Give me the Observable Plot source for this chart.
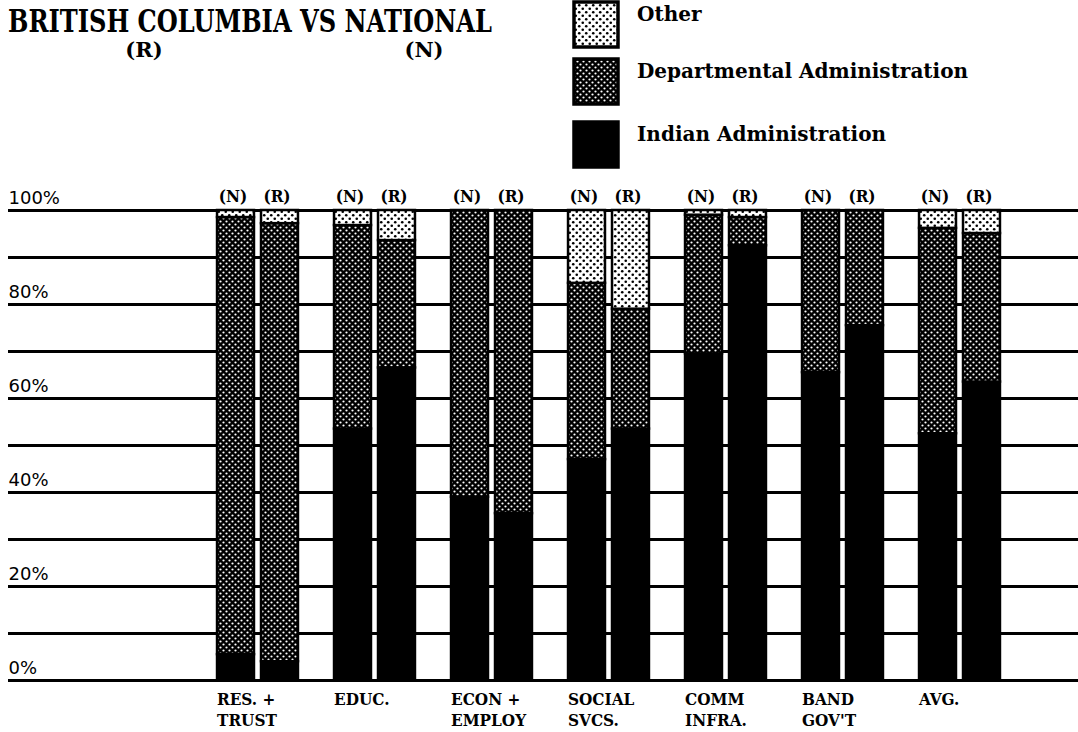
<!DOCTYPE html>
<html><head><meta charset="utf-8">
<script src="https://cdn.jsdelivr.net/npm/d3@7"></script>
<script src="https://cdn.jsdelivr.net/npm/@observablehq/plot@0.6"></script>
<style>
body{margin:0;background:#fff;}
#head{display:block}
.serif{font-family:"DejaVu Serif",serif;font-weight:bold;}
#chart svg{display:block}
g[aria-label="y-axis tick label"] text{font-family:"DejaVu Sans",sans-serif;font-size:18px;}
g[aria-label="x-axis tick label"] text{font-family:"DejaVu Serif",serif;font-weight:bold;font-size:17px;font-stretch:condensed;}
g[aria-label="fx-axis tick label"] text{font-family:"DejaVu Serif",serif;font-weight:bold;font-size:17px;font-stretch:condensed;}
</style></head><body>
<svg id="head" width="1078" height="175">
 <defs>
  <pattern id="pDept" width="6" height="6" patternUnits="userSpaceOnUse">
   <rect width="6" height="6" fill="#000"/>
   <circle cx="1.5" cy="1.5" r="1.1" fill="#fff"/>
   <circle cx="4.5" cy="4.5" r="1.1" fill="#fff"/>
  </pattern>
  <pattern id="pOther" width="7" height="7" patternUnits="userSpaceOnUse">
   <rect width="7" height="7" fill="#fff"/>
   <circle cx="1.75" cy="1.75" r="1.3" fill="#000"/>
   <circle cx="5.25" cy="5.25" r="1.3" fill="#000"/>
  </pattern>
 </defs>
</svg>
<div id="chart"></div>
<script>
// ---- data ----
const categories = ["RES. +\nTRUST", "EDUC.", "ECON +\nEMPLOY", "SOCIAL\nSVCS.", "COMM\nINFRA.", "BAND\nGOV'T", "AVG."];
const groups = ["N", "R"];
const series = ["Indian Administration", "Departmental Administration", "Other"];
const indianN = [5.5, 53.5, 39, 47, 69.5, 65.5, 52.5];
const deptN   = [93, 43.3, 61, 37.5, 29.5, 34.5, 43.7];
const otherN  = [1.5, 3.2, 0, 15.5, 1, 0, 3.8];
const indianR = [4, 66.5, 35.5, 53.5, 92.5, 75.5, 63.5];
const deptR   = [93.2, 27.1, 64.5, 25.5, 6, 24.5, 31.6];
const otherR  = [2.8, 6.4, 0, 21, 1.5, 0, 4.9];
const yGrid = [0, 10, 20, 30, 40, 50, 60, 70, 80, 90, 100];
const yLabels = [0, 20, 40, 60, 80, 100];
const title = "BRITISH COLUMBIA VS NATIONAL";
const legendOrder = ["Other", "Departmental Administration", "Indian Administration"];
const patternOf = {"Indian Administration": "#000", "Departmental Administration": "url(#pDept)", "Other": "url(#pOther)"};

// ---- header (title + legend) ----
const head = d3.select("#head");
head.append("text").attr("class", "serif").attr("x", 8).attr("y", 32)
  .attr("font-size", 31).attr("textLength", 484).attr("lengthAdjust", "spacingAndGlyphs").text(title);
head.append("text").attr("class", "serif").attr("x", 144).attr("y", 57).attr("text-anchor", "middle")
  .attr("font-size", 21).text("(R)");
head.append("text").attr("class", "serif").attr("x", 424).attr("y", 57).attr("text-anchor", "middle")
  .attr("font-size", 21).text("(N)");
const legTops = [1, 58, 121];
legendOrder.forEach((s, i) => {
  head.append("rect").attr("x", 574).attr("y", legTops[i] + 1).attr("width", 44).attr("height", 45)
    .attr("fill", patternOf[s]).attr("stroke", "#000").attr("stroke-width", 3.5);
  head.append("text").attr("class", "serif").attr("x", 637).attr("y", legTops[i] + 20)
    .attr("font-size", 20).text(s);
});

// ---- chart ----
const rows = [];
categories.forEach((c, i) => {
  groups.forEach(g => {
    const vals = g === "N" ? [indianN[i], deptN[i], otherN[i]] : [indianR[i], deptR[i], otherR[i]];
    series.forEach((s, k) => rows.push({cat: c, group: g, series: s, value: vals[k]}));
  });
});

const chart = Plot.plot({
  width: 1078, height: 557,
  marginTop: 35, marginBottom: 52, marginLeft: 199, marginRight: 60,
  style: {fontFamily: "DejaVu Serif", fontSize: "15px", color: "black", background: "white"},
  fx: {domain: categories, padding: 0, round: false, label: null},
  x: {domain: groups, paddingInner: 0.16, paddingOuter: 0.41, round: false, label: null},
  y: {domain: [0, 100], label: null},
  color: {domain: series, range: series.map(s => patternOf[s])},
  marks: [
    Plot.ruleY(yGrid, {stroke: "black", strokeWidth: 3}),
    Plot.barY(rows, Plot.stackY({fx: "cat", x: "group", y: "value", fill: "series", order: series,
      filter: d => d.value > 0, stroke: "black", strokeWidth: 2.5})),
    Plot.axisFx({anchor: "bottom", tickSize: 0, tickPadding: 9, textAnchor: "start", dx: -41, lineHeight: 1.25, label: null}),
    Plot.axisX({anchor: "top", tickSize: 0, tickPadding: 9, dx: -3, tickFormat: d => `(${d})`, label: null}),
    Plot.axisY({anchor: "left", ticks: yGrid, tickSize: 191, tickFormat: () => "", strokeWidth: 3, label: null}),
    Plot.axisY({anchor: "left", ticks: yLabels, tickSize: 0, tickPadding: 0, textAnchor: "start", dx: -191, dy: -12, tickFormat: d => d + "%", label: null}),
    Plot.axisY({anchor: "right", ticks: yGrid, tickSize: 64, dx: -4, tickFormat: () => "", strokeWidth: 3, label: null})
  ]
});
document.getElementById("chart").appendChild(chart);
</script>
</body></html>
